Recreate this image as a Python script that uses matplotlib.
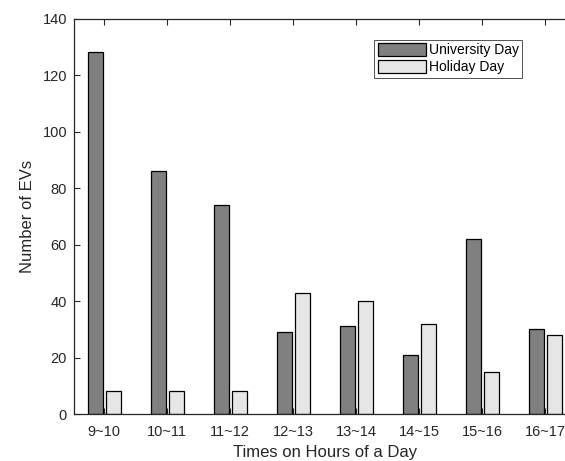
import matplotlib
matplotlib.use("Agg")
import matplotlib.pyplot as plt
import numpy as np

plt.rcParams['font.family'] = ['Liberation Sans', 'DejaVu Sans']

hours = ["9~10", "10~11", "11~12", "12~13", "13~14", "14~15", "15~16", "16~17"]
university_day = [128, 86, 74, 29, 31, 21, 62, 30]
holiday_day = [8, 8, 8, 43, 40, 32, 15, 28]

W, H = 565, 461
fig = plt.figure(figsize=(W / 100, H / 100), dpi=100)
ax = fig.add_axes([74 / W, 47 / H, 501.5 / W, 395.5 / H])

x = np.arange(1, len(hours) + 1)
bw = 0.24
off = 0.14
ax.bar(x - off, university_day, width=bw, color="#808080", edgecolor="black",
       linewidth=0.9, label="University Day", zorder=2)
ax.bar(x + off, holiday_day, width=bw, color="#e6e6e6", edgecolor="black",
       linewidth=0.9, label="Holiday Day", zorder=2)

ax.set_xlim(0.52, 8.48)
ax.set_ylim(0, 140)
ax.set_xticks(x)
ax.set_xticklabels(hours)
ax.set_yticks(np.arange(0, 141, 20))

txt = "#262626"
ax.tick_params(axis="both", direction="in", length=4, width=0.8,
               labelsize=10.5, labelcolor=txt, color="#262626")
ax.tick_params(axis="x", top=True, pad=8)
ax.tick_params(axis="y", pad=5)
for s in ax.spines.values():
    s.set_linewidth(0.9)
    s.set_color("#262626")

ax.set_xlabel("Times on Hours of a Day", fontsize=12, color=txt, labelpad=4)
ax.set_ylabel("Number of EVs", fontsize=12, color=txt, labelpad=5)

leg = ax.legend(loc="upper right", bbox_to_anchor=((522 - 74) / 501.5, (414 - 40) / 395.5),
                borderaxespad=0, fontsize=10, frameon=True, fancybox=False,
                handlelength=3.45, handleheight=1.0, handletextpad=0.2,
                labelspacing=0.2, borderpad=0.25)
leg.get_frame().set_edgecolor("#262626")
leg.get_frame().set_linewidth(0.7)
for t in leg.get_texts():
    t.set_color("black")

fig.savefig("out.png", dpi=100)
